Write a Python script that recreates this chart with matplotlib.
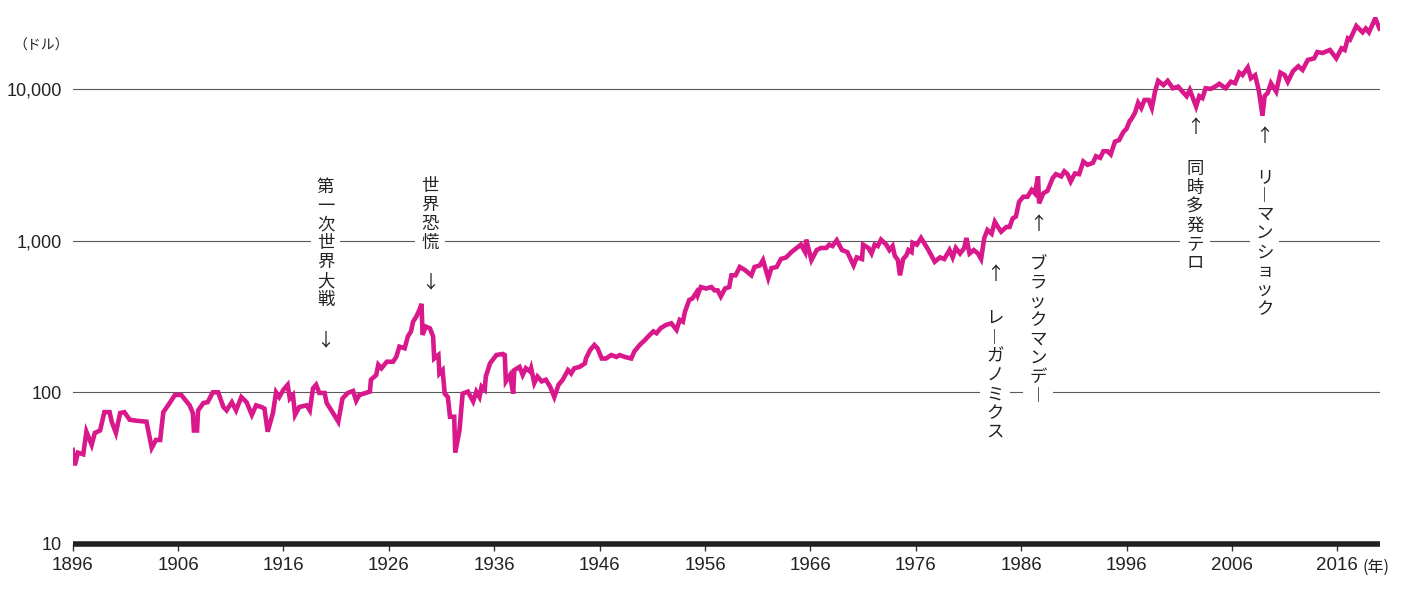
import numpy as np
import matplotlib
matplotlib.use('Agg')
import matplotlib.pyplot as plt
from matplotlib.ticker import FixedLocator, NullLocator

# Data
years = [
    1896.0, 1896.2, 1896.5, 1897.0, 1897.3, 1897.8, 1898.1, 1898.6, 1899.0, 1899.5,
    1899.7, 1900.1, 1900.5, 1900.9, 1901.4, 1902.0, 1903.0, 1903.5, 1903.9, 1904.3,
    1904.6, 1905.2, 1905.7, 1906.3, 1907.1, 1907.4, 1907.5, 1907.8, 1907.9, 1908.4,
    1908.8, 1909.3, 1909.8, 1910.3, 1910.6, 1911.1, 1911.5, 1912.0, 1912.5, 1913.0,
    1913.4, 1913.9, 1914.2, 1914.5, 1915.0, 1915.3, 1915.6, 1916.0, 1916.4, 1916.6,
    1916.9, 1917.1, 1917.5, 1918.2, 1918.5, 1918.8, 1919.1, 1919.4, 1919.9, 1920.1,
    1920.7, 1921.2, 1921.6, 1922.1, 1922.6, 1922.9, 1923.2, 1924.2, 1924.3, 1924.8,
    1925.0, 1925.3, 1925.8, 1926.4, 1926.7, 1927.0, 1927.5, 1927.8, 1928.1, 1928.3,
    1928.6, 1928.9, 1929.1, 1929.2, 1929.5, 1929.9, 1930.2, 1930.3, 1930.7, 1930.8,
    1931.1, 1931.3, 1931.6, 1931.8, 1932.2, 1932.3, 1932.7, 1933.0, 1933.5, 1934.0,
    1934.3, 1934.6, 1934.8, 1935.1, 1935.2, 1935.6, 1936.2, 1936.8, 1937.0, 1937.1,
    1937.5, 1937.8, 1937.9, 1938.4, 1938.7, 1939.0, 1939.4, 1939.5, 1939.8, 1940.1,
    1940.5, 1940.9, 1941.3, 1941.7, 1942.1, 1942.5, 1943.0, 1943.3, 1943.6, 1944.1,
    1944.6, 1944.7, 1945.1, 1945.5, 1945.8, 1946.2, 1946.6, 1947.1, 1947.6, 1947.9,
    1948.4, 1949.0, 1949.3, 1949.8, 1950.3, 1950.6, 1951.1, 1951.4, 1951.8, 1952.3,
    1952.8, 1953.3, 1953.6, 1953.9, 1954.1, 1954.5, 1954.8, 1955.2, 1955.3, 1955.6,
    1956.1, 1956.6, 1956.9, 1957.2, 1957.5, 1957.9, 1958.3, 1958.5, 1958.9, 1959.3,
    1959.8, 1960.4, 1960.7, 1961.2, 1961.5, 1962.0, 1962.3, 1962.8, 1963.2, 1963.7,
    1964.2, 1964.7, 1965.1, 1965.5, 1965.6, 1966.1, 1966.6, 1967.0, 1967.5, 1967.8,
    1968.1, 1968.5, 1969.0, 1969.5, 1970.1, 1970.4, 1970.9, 1971.0, 1971.5, 1971.8,
    1972.1, 1972.4, 1972.7, 1973.2, 1973.5, 1973.8, 1974.0, 1974.3, 1974.5, 1974.8,
    1975.1, 1975.3, 1975.6, 1975.7, 1976.1, 1976.5, 1977.2, 1977.8, 1978.3, 1978.7,
    1979.2, 1979.5, 1979.8, 1980.2, 1980.6, 1980.8, 1981.1, 1981.5, 1981.9, 1982.2,
    1982.5, 1982.8, 1983.2, 1983.5, 1983.8, 1984.1, 1984.6, 1984.9, 1985.2, 1985.5,
    1985.8, 1986.2, 1986.6, 1987.0, 1987.3, 1987.6, 1987.7, 1988.1, 1988.5, 1989.0,
    1989.3, 1989.8, 1990.1, 1990.4, 1990.7, 1991.1, 1991.5, 1991.9, 1992.3, 1992.8,
    1993.1, 1993.5, 1993.8, 1994.2, 1994.5, 1994.9, 1995.3, 1995.7, 1996.0, 1996.3,
    1996.4, 1996.8, 1997.1, 1997.4, 1997.7, 1998.1, 1998.4, 1998.7, 1999.0, 1999.5,
    1999.9, 2000.4, 2000.9, 2001.3, 2001.7, 2002.0, 2002.6, 2002.9, 2003.2, 2003.5,
    2004.0, 2004.4, 2004.8, 2005.4, 2005.9, 2006.3, 2006.7, 2007.0, 2007.5, 2007.8,
    2008.2, 2008.5, 2008.6, 2008.9, 2009.1, 2009.4, 2009.7, 2010.2, 2010.6, 2011.0,
    2011.3, 2011.8, 2012.3, 2012.7, 2013.2, 2013.8, 2014.1, 2014.6, 2015.3, 2015.9,
    2016.4, 2016.7, 2017.0, 2017.2, 2017.8, 2018.4, 2018.7, 2019.0, 2019.6, 2020.0,
]
dow = [
    41.7, 33, 40, 39, 55, 45, 54, 56, 74, 74,
    64, 54, 73, 74, 66, 65, 64, 43, 48.5, 48.5,
    74, 85, 96, 96, 82, 73, 56, 56, 76, 85,
    86, 100, 100, 80, 76, 86, 76, 93, 86, 71,
    82, 80, 78, 55, 73, 100, 93, 104, 112, 91,
    96, 71, 80, 82, 76, 106, 112, 99, 99, 85,
    73, 64, 91, 99, 102, 88, 96, 101, 121, 130,
    152, 144, 159, 159, 171, 200, 195, 233, 252, 292,
    315, 349, 383, 239, 271, 264, 233, 167, 176, 133,
    140, 98, 93, 69, 69, 40, 56, 98, 101, 87,
    101, 93, 109, 104, 127, 155, 176, 179, 176, 118,
    130, 98, 140, 147, 130, 144, 137, 144, 115, 127,
    118, 121, 109, 93, 112, 121, 140, 133, 144, 147,
    155, 167, 190, 205, 195, 167, 167, 176, 171, 176,
    171, 167, 186, 205, 221, 233, 252, 245, 265, 278,
    285, 258, 300, 292, 340, 406, 415, 457, 436, 494,
    483, 494, 470, 470, 428, 483, 494, 590, 590, 670,
    639, 590, 670, 686, 744, 565, 658, 670, 756, 775,
    840, 894, 940, 840, 1015, 744, 866, 894, 894, 940,
    920, 1005, 866, 840, 686, 775, 756, 940, 894, 822,
    940, 920, 1015, 940, 866, 920, 797, 744, 590, 756,
    797, 866, 840, 968, 940, 1040, 866, 725, 775, 756,
    866, 775, 894, 822, 894, 1040, 822, 866, 822, 756,
    1040, 1175, 1110, 1330, 1230, 1145, 1230, 1230, 1400, 1440,
    1800, 1945, 1945, 2157, 2045, 2650, 1760, 2050, 2130, 2590,
    2740, 2650, 2860, 2740, 2450, 2770, 2740, 3320, 3160, 3250,
    3600, 3510, 3880, 3880, 3700, 4490, 4600, 5200, 5460, 6160,
    6235, 6950, 8100, 7480, 8450, 8450, 7480, 9600, 11300, 10600,
    11300, 10100, 10350, 9600, 8950, 9850, 7650, 8950, 8700, 10100,
    10000, 10350, 10800, 10100, 11150, 10900, 12800, 12350, 13850, 11750,
    12300, 10100, 9290, 6650, 8950, 9420, 10900, 9600, 12800, 12350,
    11150, 13100, 14100, 13330, 15520, 15900, 17500, 17250, 18050, 15900,
    18500, 18050, 21500, 21100, 26000, 23600, 25000, 23600, 29200, 25000,
]

ytick_vals = [10, 100, 1000, 10000]
ytick_labels = ['10', '100', '1,000', '10,000']
xtick_vals = list(range(1896, 2017, 10))

events = ['第一次世界大戦', '世界恐慌', 'レーガノミクス', 'ブラックマンデー',
          '同時多発テロ', 'リーマンショック']

# layout of the event notes: x, text top, arrow centre, arrow
event_layout = [
    (1920.0, 2590, 221, '↓'),
    (1929.9, 2625, 533, '↓'),
    (1983.5, 349, 593, '↑'),
    (1987.6, 803, 1268, '↑'),
    (2002.5, 3400, 5520, '↑'),
    (2009.1, 3010, 4820, '↑'),
]

jp = ['Noto Sans CJK JP', 'DejaVu Sans']
num_font = 'Liberation Sans'
ink = '#222222'
magenta = '#d8188b'

W, H = 1405, 596
fig = plt.figure(figsize=(W / 100, H / 100), dpi=100)
ax = fig.add_axes([72.7 / W, 1 - 544 / H, (1380 - 72.7) / W, 527.5 / H])

ax.plot(years, dow, color=magenta, lw=3.3, solid_joinstyle='miter', zorder=3)

ax.set_yscale('log')
ax.set_ylim(10, 30000)
ax.set_xlim(1896, 2020.05)

# Axes formatting
for s in ['top', 'right', 'left']:
    ax.spines[s].set_visible(False)
ax.spines['bottom'].set_linewidth(4)
ax.spines['bottom'].set_color('#231f20')
ax.spines['bottom'].set_capstyle('butt')

ax.yaxis.set_major_locator(FixedLocator(ytick_vals))
ax.yaxis.set_minor_locator(NullLocator())
ax.set_yticklabels(ytick_labels, fontsize=13, family=num_font, color=ink)
ax.tick_params(axis='y', length=0, pad=8)

ax.set_xticks(xtick_vals)
ax.set_xticklabels([str(v) for v in xtick_vals], fontsize=13.5,
                   family=num_font, color=ink)
ax.tick_params(axis='x', direction='out', length=5, width=1,
               color='#333333', pad=4)

for v in ytick_vals[1:]:
    ax.axhline(v, color='#5a5a5a', lw=0.8, zorder=1)

# Event notes, written top to bottom
for label, (x, ytop, yarr, arrow) in zip(events, event_layout):
    vert = '\n'.join(label.replace('ー', '︱'))
    ax.text(x, ytop, vert, ha='center', va='top', fontsize=12.5,
            family=jp, color=ink, linespacing=1.06, zorder=4,
            bbox=dict(boxstyle='square,pad=0.35', fc='white', ec='none'))
    ax.text(x, yarr, arrow, ha='center', va='center', fontsize=13,
            family=jp, color=ink, zorder=4)

fig.text(13 / W, 1 - 46 / H, '（ドル）', ha='left', va='center',
         fontsize=10, family=jp, color=ink)
fig.text(1362 / W, 1 - 567 / H, '(年)', ha='left', va='center',
         fontsize=11.5, family=jp, color=ink)

plt.savefig('out.png', dpi=100)
plt.close('all')
